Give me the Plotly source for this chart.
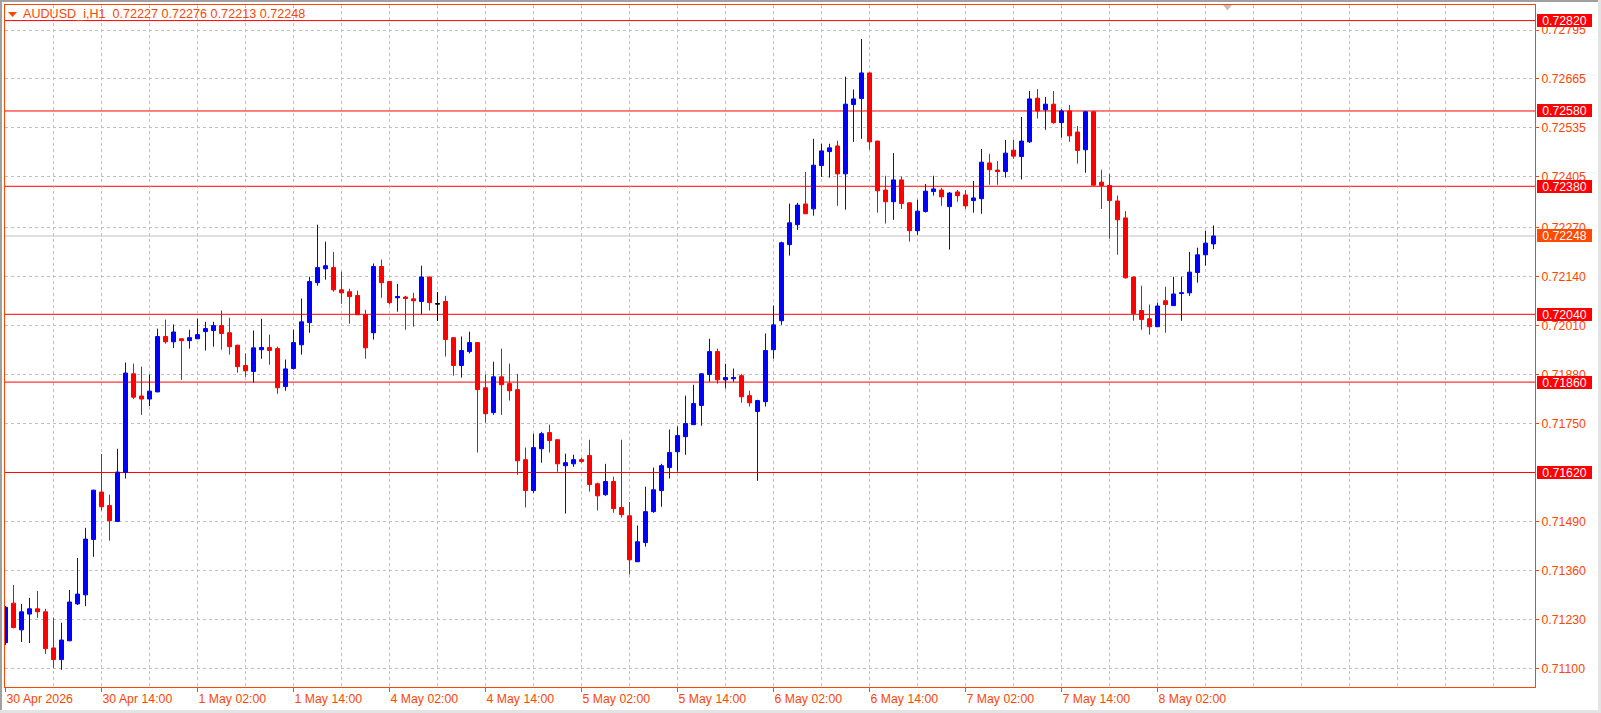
import plotly.graph_objects as go

# ---------------- data (AUDUSD_i, H1) ----------------
opens = [0.71168, 0.71273, 0.71202, 0.71244, 0.71258, 0.71250, 0.71154, 0.71123, 0.71173, 0.71271,
         0.71295, 0.71442, 0.71568, 0.71532, 0.71490, 0.71620, 0.71882, 0.71823, 0.71815, 0.71834,
         0.71981, 0.71967, 0.71975, 0.71970, 0.71975, 0.71994, 0.71997, 0.72010, 0.71991, 0.71958,
         0.71904, 0.71888, 0.71946, 0.71952, 0.71949, 0.71848, 0.71896, 0.71959, 0.72018, 0.72124,
         0.72161, 0.72164, 0.72105, 0.72100, 0.72090, 0.72039, 0.71991, 0.72167, 0.72127, 0.72084,
         0.72086, 0.72081, 0.72074, 0.72139, 0.72068, 0.72074, 0.71978, 0.71904, 0.71941, 0.71965,
         0.71845, 0.71779, 0.71874, 0.71856, 0.71840, 0.71654, 0.71572, 0.71683, 0.71726, 0.71707,
         0.71638, 0.71643, 0.71654, 0.71665, 0.71590, 0.71561, 0.71596, 0.71527, 0.71505, 0.71383,
         0.71434, 0.71516, 0.71572, 0.71633, 0.71675, 0.71715, 0.71747, 0.71798, 0.71880, 0.71941,
         0.71866, 0.71869, 0.71877, 0.71824, 0.71782, 0.71808, 0.71946, 0.72023, 0.72225, 0.72278,
         0.72333, 0.72320, 0.72435, 0.72472, 0.72487, 0.72413, 0.72597, 0.72613, 0.72681, 0.72500,
         0.72370, 0.72339, 0.72397, 0.72336, 0.72262, 0.72313, 0.72366, 0.72370, 0.72326, 0.72365,
         0.72357, 0.72342, 0.72347, 0.72442, 0.72423, 0.72419, 0.72476, 0.72459, 0.72498, 0.72614,
         0.72583, 0.72598, 0.72549, 0.72580, 0.72524, 0.72477, 0.72578, 0.72391, 0.72382, 0.72341,
         0.72296, 0.72139, 0.72050, 0.72028, 0.72007, 0.72076, 0.72063, 0.72095, 0.72097, 0.72151,
         0.72198, 0.72227]
highs = [0.71265, 0.71321, 0.71271, 0.71287, 0.71305, 0.71258, 0.71234, 0.71221, 0.71308, 0.71393,
         0.71473, 0.71574, 0.71669, 0.71561, 0.71683, 0.71912, 0.71909, 0.71901, 0.71880, 0.72002,
         0.72026, 0.72013, 0.71976, 0.71999, 0.72028, 0.72020, 0.72020, 0.72050, 0.72031, 0.71959,
         0.71936, 0.71997, 0.72028, 0.71986, 0.71954, 0.71920, 0.71999, 0.72082, 0.72140, 0.72278,
         0.72233, 0.72206, 0.72153, 0.72108, 0.72103, 0.72052, 0.72175, 0.72185, 0.72128, 0.72121,
         0.72089, 0.72097, 0.72169, 0.72140, 0.72099, 0.72089, 0.71979, 0.71981, 0.71994, 0.71966,
         0.71880, 0.71914, 0.71949, 0.71909, 0.71882, 0.71686, 0.71723, 0.71728, 0.71747, 0.71708,
         0.71670, 0.71667, 0.71659, 0.71707, 0.71593, 0.71643, 0.71609, 0.71707, 0.71542, 0.71479,
         0.71582, 0.71633, 0.71643, 0.71734, 0.71742, 0.71824, 0.71853, 0.71883, 0.71975, 0.71949,
         0.71909, 0.71896, 0.71882, 0.71837, 0.71813, 0.71989, 0.72063, 0.72233, 0.72334, 0.72336,
         0.72418, 0.72506, 0.72493, 0.72493, 0.72501, 0.72671, 0.72637, 0.72771, 0.72682, 0.72501,
         0.72408, 0.72468, 0.72406, 0.72337, 0.72344, 0.72386, 0.72408, 0.72376, 0.72365, 0.72370,
         0.72370, 0.72394, 0.72479, 0.72466, 0.72447, 0.72503, 0.72503, 0.72564, 0.72633, 0.72638,
         0.72617, 0.72633, 0.72585, 0.72596, 0.72540, 0.72579, 0.72579, 0.72424, 0.72413, 0.72355,
         0.72314, 0.72140, 0.72116, 0.72066, 0.72071, 0.72113, 0.72140, 0.72140, 0.72206, 0.72217,
         0.72262, 0.72276]
lows = [0.71162, 0.71206, 0.71170, 0.71167, 0.71234, 0.71138, 0.71101, 0.71096, 0.71172, 0.71268,
        0.71265, 0.71396, 0.71519, 0.71439, 0.71489, 0.71604, 0.71815, 0.71773, 0.71796, 0.71833,
        0.71962, 0.71951, 0.71866, 0.71949, 0.71974, 0.71944, 0.71954, 0.71946, 0.71933, 0.71885,
        0.71874, 0.71859, 0.71922, 0.71906, 0.71829, 0.71837, 0.71893, 0.71933, 0.71991, 0.72116,
        0.72132, 0.72100, 0.72068, 0.72015, 0.72038, 0.71922, 0.71973, 0.72084, 0.72066, 0.72047,
        0.71999, 0.72007, 0.72041, 0.72050, 0.72023, 0.71928, 0.71877, 0.71872, 0.71936, 0.71673,
        0.71752, 0.71773, 0.71773, 0.71811, 0.71614, 0.71527, 0.71566, 0.71646, 0.71673, 0.71622,
        0.71511, 0.71635, 0.71646, 0.71569, 0.71519, 0.71558, 0.71513, 0.71500, 0.71349, 0.71382,
        0.71423, 0.71513, 0.71529, 0.71604, 0.71622, 0.71667, 0.71746, 0.71744, 0.71861, 0.71856,
        0.71843, 0.71861, 0.71805, 0.71795, 0.71598, 0.71795, 0.71922, 0.72012, 0.72196, 0.72264,
        0.72307, 0.72302, 0.72405, 0.72403, 0.72328, 0.72318, 0.72498, 0.72506, 0.72477, 0.72310,
        0.72281, 0.72291, 0.72320, 0.72233, 0.72251, 0.72310, 0.72355, 0.72328, 0.72212, 0.72339,
        0.72320, 0.72310, 0.72307, 0.72384, 0.72384, 0.72403, 0.72453, 0.72398, 0.72495, 0.72560,
        0.72530, 0.72546, 0.72509, 0.72498, 0.72440, 0.72416, 0.72381, 0.72320, 0.72241, 0.72198,
        0.72135, 0.72023, 0.71999, 0.71986, 0.72006, 0.71991, 0.72062, 0.72023, 0.72089, 0.72124,
        0.72169, 0.72213]
closes = [0.71262, 0.71208, 0.71250, 0.71258, 0.71250, 0.71152, 0.71123, 0.71175, 0.71276, 0.71297,
          0.71443, 0.71573, 0.71529, 0.71492, 0.71621, 0.71884, 0.71820, 0.71815, 0.71836, 0.71981,
          0.71967, 0.71993, 0.71970, 0.71978, 0.71986, 0.72002, 0.72010, 0.71989, 0.71954, 0.71901,
          0.71890, 0.71951, 0.71952, 0.71944, 0.71845, 0.71895, 0.71965, 0.72020, 0.72127, 0.72164,
          0.72169, 0.72105, 0.72097, 0.72087, 0.72039, 0.71951, 0.72167, 0.72124, 0.72071, 0.72087,
          0.72082, 0.72076, 0.72139, 0.72071, 0.72068, 0.71973, 0.71904, 0.71944, 0.71965, 0.71840,
          0.71776, 0.71874, 0.71853, 0.71837, 0.71651, 0.71572, 0.71686, 0.71723, 0.71705, 0.71643,
          0.71646, 0.71654, 0.71649, 0.71588, 0.71558, 0.71596, 0.71524, 0.71508, 0.71388, 0.71436,
          0.71516, 0.71574, 0.71638, 0.71673, 0.71718, 0.71750, 0.71803, 0.71882, 0.71941, 0.71866,
          0.71872, 0.71872, 0.71821, 0.71805, 0.71811, 0.71944, 0.72012, 0.72230, 0.72283, 0.72330,
          0.72307, 0.72436, 0.72474, 0.72482, 0.72413, 0.72598, 0.72612, 0.72681, 0.72498, 0.72368,
          0.72339, 0.72397, 0.72334, 0.72262, 0.72314, 0.72367, 0.72373, 0.72352, 0.72362, 0.72355,
          0.72328, 0.72349, 0.72444, 0.72424, 0.72419, 0.72468, 0.72460, 0.72500, 0.72612, 0.72580,
          0.72598, 0.72549, 0.72580, 0.72514, 0.72475, 0.72578, 0.72383, 0.72382, 0.72342, 0.72291,
          0.72137, 0.72042, 0.72026, 0.72007, 0.72062, 0.72066, 0.72094, 0.72097, 0.72152, 0.72198,
          0.72229, 0.72248]
doji_bars = [54]

time_tick_bars = [0, 12, 24, 36, 48, 60, 72, 84, 96, 108, 120, 132, 144]
time_tick_labels = ["30 Apr 2026", "30 Apr 14:00", "1 May 02:00", "1 May 14:00", "4 May 02:00",
                    "4 May 14:00", "5 May 02:00", "5 May 14:00", "6 May 02:00", "6 May 14:00",
                    "7 May 02:00", "7 May 14:00", "8 May 02:00"]
# price scale labels (0.71620 is hidden under the level label in the source, so it is not listed)
price_ticks = [0.71100, 0.71230, 0.71360, 0.71490, 0.71750, 0.71880, 0.72010,
               0.72140, 0.72270, 0.72405, 0.72535, 0.72665, 0.72795]
levels = [0.72820, 0.72580, 0.72380, 0.72040, 0.71860, 0.71620]
symbol = "AUDUSD_i,H1"

# ---------------- style ----------------
W, H = 1601, 713
L_M, R_M, T_M, B_M = 5, 66, 5, 26
PW, PH = W - L_M - R_M, H - T_M - B_M
FG = "#FF4500"
GRID = "#C0C0C0"
FONT = "Liberation Sans"
BAR_PX = 8.0
X0 = -0.0625
Y_TOP, Y_BOT = 0.728614, 0.710503


def px_x(p):
    return (p - L_M) / PW


def px_y(p):
    return (H - B_M - p) / PH


bars = list(range(len(opens)))

fig = go.Figure()
fig.add_trace(go.Candlestick(
    x=bars, open=opens, high=highs, low=lows, close=closes,
    increasing=dict(line=dict(color="#0000FF", width=1), fillcolor="#0000FF"),
    decreasing=dict(line=dict(color="#FF0000", width=1), fillcolor="#FF0000"),
    whiskerwidth=0, showlegend=False, hoverinfo="skip"))
fig.add_trace(go.Candlestick(
    x=doji_bars,
    open=[opens[i] for i in doji_bars], high=[highs[i] for i in doji_bars],
    low=[lows[i] for i in doji_bars], close=[closes[i] for i in doji_bars],
    increasing=dict(line=dict(color="#000000", width=1), fillcolor="#000000"),
    decreasing=dict(line=dict(color="#000000", width=1), fillcolor="#000000"),
    whiskerwidth=0, showlegend=False, hoverinfo="skip"))

shapes = []
# level lines
for lv in levels:
    shapes.append(dict(type="line", xref="paper", yref="y", x0=0, x1=1, y0=lv, y1=lv,
                       line=dict(color="#FF0000", width=1), layer="between"))
# current price (bid) line
shapes.append(dict(type="line", xref="paper", yref="y", x0=0, x1=1, y0=closes[-1], y1=closes[-1],
                   line=dict(color="#C0C0C0", width=1), layer="between"))
# window borders
shapes += [
    dict(type="rect", xref="paper", yref="paper", x0=px_x(0), x1=px_x(W), y0=px_y(0), y1=px_y(2),
         line=dict(width=0), fillcolor="#A0A0A0"),
    dict(type="rect", xref="paper", yref="paper", x0=px_x(0), x1=px_x(2), y0=px_y(0), y1=px_y(H),
         line=dict(width=0), fillcolor="#A0A0A0"),
    dict(type="rect", xref="paper", yref="paper", x0=px_x(W - 3), x1=px_x(W), y0=px_y(0), y1=px_y(H),
         line=dict(width=0), fillcolor="#E3E3E3"),
    dict(type="rect", xref="paper", yref="paper", x0=px_x(0), x1=px_x(W), y0=px_y(H - 3), y1=px_y(H),
         line=dict(width=0), fillcolor="#E3E3E3"),
]
# header triangle
shapes.append(dict(type="path", xref="paper", yref="paper",
                   path=f"M {px_x(8)},{px_y(12)} L {px_x(17)},{px_y(12)} L {px_x(12.5)},{px_y(17)} Z",
                   line=dict(width=0), fillcolor=FG))
# chart shift marker
shapes.append(dict(type="path", xref="paper", yref="paper",
                   path=f"M {px_x(1223)},{px_y(5)} L {px_x(1232)},{px_y(5)} L {px_x(1227.5)},{px_y(10.5)} Z",
                   line=dict(width=0), fillcolor="#C0C0C0"))

annotations = []
for lv in levels:
    annotations.append(dict(xref="paper", yref="y", x=1, y=lv, xanchor="left", yanchor="middle",
                            xshift=2, text=f"{lv:.5f}", showarrow=False,
                            font=dict(family=FONT, size=12.3, color="#FFFFFF"),
                            bgcolor="#FF0000", width=53, height=11, borderpad=1, borderwidth=0,
                            align="center"))
annotations.append(dict(xref="paper", yref="y", x=1, y=closes[-1], xanchor="left", yanchor="middle",
                        xshift=2, text=f"{closes[-1]:.5f}", showarrow=False,
                        font=dict(family=FONT, size=12.3, color="#FFFFFF"),
                        bgcolor="#FF4A00", width=53, height=11, borderpad=1, borderwidth=0,
                        align="center"))
nbsp = "\u00a0"
header = (f"{symbol}{nbsp}{nbsp}{opens[-1]:.5f}{nbsp}{highs[-1]:.5f}"
          f"{nbsp}{lows[-1]:.5f}{nbsp}{closes[-1]:.5f}")
annotations.append(dict(xref="paper", yref="paper", x=px_x(21), y=px_y(14), xanchor="left",
                        yanchor="middle", text=header, showarrow=False,
                        font=dict(family=FONT, size=12.6, color=FG)))

fig.update_layout(
    width=W, height=H,
    margin=dict(l=L_M, r=R_M, t=T_M, b=B_M, pad=0),
    paper_bgcolor="#FFFFFF", plot_bgcolor="#FFFFFF",
    showlegend=False,
    boxgap=0.5, boxgroupgap=0, boxmode="overlay",
    shapes=shapes, annotations=annotations,
    xaxis=dict(
        range=[X0, X0 + PW / BAR_PX], rangeslider=dict(visible=False),
        tickmode="array", tickvals=time_tick_bars, ticktext=time_tick_labels,
        ticks="outside", ticklen=4, tickcolor=FG, tickwidth=1,
        ticklabelposition="outside right",
        tickfont=dict(family=FONT, size=12.3, color=FG),
        showgrid=True, gridcolor=GRID, gridwidth=1, griddash="3px,3px",
        minor=dict(tickmode="linear", tick0=0, dtick=6, showgrid=True, gridcolor=GRID,
                   gridwidth=1, griddash="3px,3px", ticks=""),
        showline=True, linecolor=FG, linewidth=1, mirror=True, zeroline=False,
        fixedrange=True,
    ),
    yaxis=dict(
        range=[Y_BOT, Y_TOP], side="right",
        tickmode="array", tickvals=price_ticks, ticktext=[f"{v:.5f}" for v in price_ticks],
        ticks="outside", ticklen=3, tickcolor=FG, tickwidth=1,
        tickfont=dict(family=FONT, size=12.3, color=FG),
        showgrid=True, gridcolor=GRID, gridwidth=1, griddash="3px,3px",
        showline=True, linecolor=FG, linewidth=1, mirror=True, zeroline=False,
        fixedrange=True,
    ),
)

fig.write_html("out.html")
